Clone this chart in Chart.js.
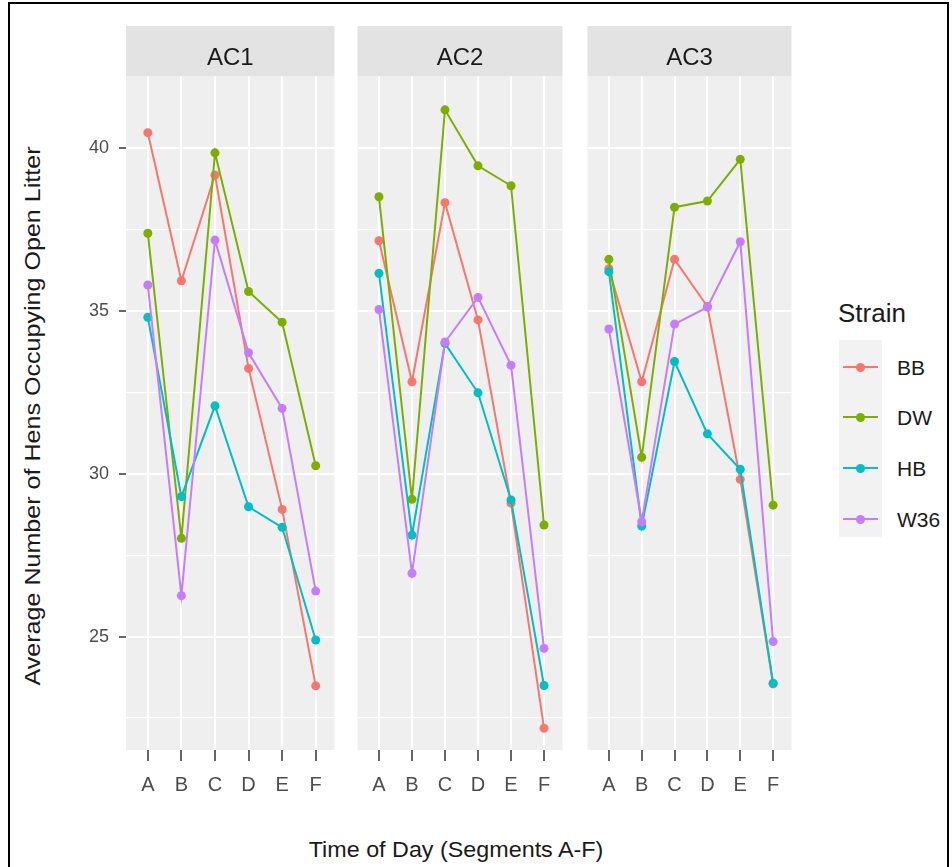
<!DOCTYPE html>
<html>
<head>
<meta charset="utf-8">
<script src="https://cdn.jsdelivr.net/npm/chart.js@4.4.1/dist/chart.umd.min.js"></script>
<style>
  html, body { margin: 0; padding: 0; background: #fff; }
  body { width: 952px; height: 867px; position: relative; overflow: hidden; font-family: "Liberation Sans", Arial, sans-serif; }
  canvas { position: absolute; }
  #frame { position: absolute; left: 8px; top: 2px; width: 937px; height: 900px; border: 2px solid #000; }
  #ytitle { position: absolute; left: 33px; top: 416px; white-space: nowrap; font-size: 22px; line-height: 1; color: #1a1a1a;
            transform: translate(-50%, -50%) rotate(-90deg) scaleX(1.14); }
  #xtitle { position: absolute; left: 456px; top: 850px; white-space: nowrap; font-size: 22px; line-height: 1; color: #1a1a1a;
            transform: translate(-50%, -50%) scaleX(1.06); }
  #legend-title { position: absolute; left: 838px; top: 300px; font-size: 26px; line-height: 1; color: #1a1a1a; }
  #legend-keys { position: absolute; left: 839px; top: 340px; width: 43px; height: 197px; background: #f2f2f2; }
  .key-line { position: absolute; height: 2px; width: 35px; left: 843px; }
  .key-dot { position: absolute; width: 9px; height: 9px; border-radius: 50%; left: 856px; }
  .key-label { position: absolute; left: 897px; font-size: 21px; line-height: 1; color: #1a1a1a; transform: translateY(-50%); }
</style>
</head>
<body>
<div id="frame"></div>
<canvas id="c0"></canvas>
<canvas id="c1"></canvas>
<canvas id="c2"></canvas>
<div id="ytitle">Average Number of Hens Occupying Open Litter</div>
<div id="xtitle">Time of Day (Segments A-F)</div>
<div id="legend-title">Strain</div>
<div id="legend-keys"></div>
<div id="legend"></div>
<script>
// data
const facets = ["AC1", "AC2", "AC3"];
const timeLabels = ["A", "B", "C", "D", "E", "F"];
const strains = ["BB", "DW", "HB", "W36"];
const strainColors = ["#F8766D", "#7CAE00", "#00BFC4", "#C77CFF"];

// one row per facet (AC1, AC2, AC3), one value per segment A-F
const bbValues = [
  [40.48, 35.93, 39.18, 33.24, 28.91, 23.49],
  [37.16, 32.83, 38.33, 34.73, 29.10, 22.19],
  [36.30, 32.83, 36.59, 35.14, 29.83, 23.55]
];
const dwValues = [
  [37.39, 28.02, 39.86, 35.60, 34.66, 30.25],
  [38.51, 29.22, 41.18, 39.46, 38.85, 28.43],
  [36.59, 30.51, 38.19, 38.38, 39.66, 29.04]
];
const hbValues = [
  [34.81, 29.30, 32.09, 28.99, 28.36, 24.90],
  [36.16, 28.12, 34.01, 32.49, 29.20, 23.50],
  [36.21, 28.40, 33.45, 31.23, 30.14, 23.57]
];
const w36Values = [
  [35.80, 26.26, 37.18, 33.72, 32.01, 26.40],
  [35.05, 26.95, 34.05, 35.42, 33.34, 24.64],
  [34.45, 28.53, 34.60, 35.12, 37.13, 24.85]
];
const seriesValues = [bbValues, dwValues, hbValues, w36Values];

const yTickValues = [25, 30, 35, 40];
const yMinorValues = [22.5, 27.5, 32.5, 37.5];

// layout
const panelLeft = [126, 353, 583];
const panelWidth = [213, 214, 213];
const yAxisWidth = 50;
const font = '"Liberation Sans", Arial, sans-serif';

const facetPlugin = {
  id: "facet",
  beforeDraw(chart, args, opts) {
    const { ctx, chartArea: a } = chart;
    ctx.save();
    ctx.fillStyle = "#efefef";
    ctx.fillRect(a.left, a.top, a.right - a.left, a.bottom - a.top);
    ctx.fillStyle = "#e3e3e3";
    ctx.fillRect(a.left, 0, a.right - a.left, a.top);
    ctx.fillStyle = "#1a1a1a";
    ctx.font = "24px " + font;
    ctx.textAlign = "center";
    ctx.textBaseline = "alphabetic";
    ctx.fillText(opts.label, (a.left + a.right) / 2, 39);
    ctx.restore();
  }
};

const allY = yMinorValues.concat(yTickValues).sort((a, b) => a - b);

facets.forEach((facet, f) => {
  const first = f === 0;
  const yw = first ? yAxisWidth : 0;
  const canvas = document.getElementById("c" + f);
  canvas.width = panelWidth[f] + yw;
  canvas.height = 784;
  canvas.style.left = (panelLeft[f] - yw) + "px";
  canvas.style.top = "26px";

  const datasets = strains.map((s, k) => ({
    label: s,
    data: seriesValues[k][f].map((v, i) => ({ x: i, y: v })),
    borderColor: strainColors[k],
    backgroundColor: strainColors[k],
    pointBackgroundColor: strainColors[k],
    pointBorderColor: strainColors[k],
    borderWidth: 2,
    pointRadius: 4.5,
    pointBorderWidth: 0,
    tension: 0,
    order: strains.length - k
  }));

  new Chart(canvas, {
    type: "line",
    data: { datasets },
    plugins: [facetPlugin],
    options: {
      responsive: false,
      animation: false,
      devicePixelRatio: 1,
      layout: { padding: { top: 50, left: 0, right: 0, bottom: 0 } },
      plugins: {
        legend: { display: false },
        tooltip: { enabled: false },
        facet: { label: facet }
      },
      scales: {
        x: {
          type: "linear",
          min: -0.65,
          max: 5.56,
          afterBuildTicks: (s) => { s.ticks = timeLabels.map((_, i) => ({ value: i })); },
          afterFit: (s) => { s.height = 60; },
          ticks: {
            autoSkip: false,
            maxRotation: 0,
            padding: 12,
            color: "#4d4d4d",
            font: { family: font, size: 20 },
            callback: (v) => timeLabels[v]
          },
          grid: { color: "#ffffff", lineWidth: 2, tickLength: 11, tickColor: "#333333", tickWidth: 1.5 },
          border: { display: false }
        },
        y: {
          type: "linear",
          min: 21.52,
          max: 42.22,
          afterBuildTicks: (s) => { s.ticks = allY.map((v) => ({ value: v })); },
          afterFit: (s) => { s.width = yw; },
          ticks: {
            display: first,
            padding: 10,
            color: "#4d4d4d",
            font: { family: font, size: 18 },
            callback: (v) => (yTickValues.includes(v) ? String(v) : "")
          },
          grid: {
            color: "#ffffff",
            lineWidth: (c) => (yTickValues.includes(c.tick.value) ? 2 : 1.2),
            drawTicks: first,
            tickLength: 7,
            tickWidth: 1.5,
            tickColor: (c) => (yTickValues.includes(c.tick.value) ? "#333333" : "rgba(0,0,0,0)")
          },
          border: { display: false }
        }
      }
    }
  });
});

// legend
const keyTop = [367, 417, 468, 519];
const legend = document.getElementById("legend");
strains.forEach((s, k) => {
  const line = document.createElement("div");
  line.className = "key-line";
  line.style.top = (keyTop[k] - 1) + "px";
  line.style.background = strainColors[k];
  const dot = document.createElement("div");
  dot.className = "key-dot";
  dot.style.top = (keyTop[k] - 4.5) + "px";
  dot.style.background = strainColors[k];
  const label = document.createElement("div");
  label.className = "key-label";
  label.style.top = keyTop[k] + "px";
  label.textContent = s;
  legend.appendChild(line);
  legend.appendChild(dot);
  legend.appendChild(label);
});
</script>
</body>
</html>
